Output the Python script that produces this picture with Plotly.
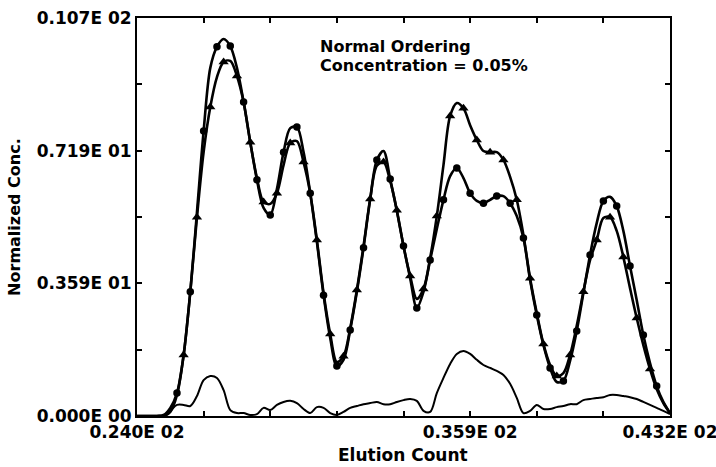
import plotly.graph_objects as go

# Elution count grid (x values)
elution = [24.00, 24.24, 24.48, 24.72, 24.96, 25.20, 25.44, 25.68, 25.92, 26.16,
           26.40, 26.64, 26.88, 27.12, 27.36, 27.60, 27.84, 28.08, 28.32, 28.56,
           28.80, 29.04, 29.28, 29.52, 29.76, 30.00, 30.24, 30.48, 30.72, 30.96,
           31.20, 31.44, 31.68, 31.92, 32.16, 32.40, 32.64, 32.88, 33.12, 33.36,
           33.60, 33.84, 34.08, 34.32, 34.56, 34.80, 35.04, 35.28, 35.52, 35.76,
           36.00, 36.24, 36.48, 36.72, 36.96, 37.20, 37.44, 37.68, 37.92, 38.16,
           38.40, 38.64, 38.88, 39.12, 39.36, 39.60, 39.84, 40.08, 40.32, 40.56,
           40.80, 41.04, 41.28, 41.52, 41.76, 42.00, 42.24, 42.48, 42.72, 42.96,
           43.20]

# Series with circle markers
conc_circles = [0, 0, 0, 0, 0.03, 0.22, 0.62, 1.65, 3.36, 5.52,
                7.71, 9.42, 9.99, 10.20, 10.01, 9.42, 8.50, 7.41, 6.39, 5.63,
                5.44, 6.14, 7.14, 7.79, 7.82, 7.14, 6.03, 4.71, 3.27, 2.11,
                1.35, 1.52, 2.33, 3.36, 4.55, 5.87, 6.93, 7.17, 6.41, 5.55,
                4.60, 3.73, 2.92, 3.36, 4.22, 5.06, 5.85, 6.49, 6.71, 6.44,
                6.03, 5.82, 5.76, 5.85, 5.95, 5.95, 5.76, 5.41, 4.82, 3.68,
                2.73, 1.92, 1.30, 0.92, 0.95, 1.49, 2.30, 3.33, 4.36, 5.22,
                5.82, 5.93, 5.68, 5.01, 4.06, 3.14, 2.19, 1.43, 0.81, 0.38,
                0.08]

# Series with triangle markers
conc_triangles = [0, 0, 0, 0, 0, 0.11, 0.57, 1.65, 3.36, 5.38,
                  7.14, 8.36, 9.17, 9.58, 9.61, 9.20, 8.50, 7.41, 6.44, 5.79,
                  5.74, 6.03, 6.79, 7.39, 7.44, 6.87, 6.03, 4.76, 3.33, 2.22,
                  1.46, 1.62, 2.38, 3.41, 4.60, 5.87, 6.77, 6.87, 6.36, 5.57,
                  4.60, 3.79, 3.17, 3.44, 4.28, 5.41, 6.79, 8.12, 8.47, 8.33,
                  7.87, 7.47, 7.17, 7.14, 7.14, 6.93, 6.47, 5.85, 4.90, 3.73,
                  2.79, 1.95, 1.38, 1.08, 1.16, 1.65, 2.44, 3.36, 4.22, 4.76,
                  5.36, 5.38, 5.01, 4.30, 3.46, 2.65, 1.92, 1.27, 0.73, 0.35,
                  0.08]

# Difference curve near the baseline
conc_diff = [0, 0, 0, 0, 0, 0.14, 0.30, 0.30, 0.27, 0.54,
             0.97, 1.08, 1.03, 0.70, 0.16, 0.08, 0.08, 0.03, 0.05, 0.22,
             0.16, 0.30, 0.38, 0.41, 0.35, 0.19, 0.08, 0.24, 0.22, 0.08,
             0.03, 0.11, 0.22, 0.27, 0.32, 0.35, 0.38, 0.32, 0.32, 0.38,
             0.43, 0.46, 0.41, 0.14, 0.11, 0.62, 1.03, 1.41, 1.68, 1.76,
             1.68, 1.52, 1.38, 1.30, 1.22, 1.11, 0.87, 0.49, 0.08, 0.14,
             0.30, 0.19, 0.19, 0.24, 0.27, 0.32, 0.32, 0.43, 0.46, 0.49,
             0.51, 0.57, 0.57, 0.54, 0.51, 0.46, 0.38, 0.30, 0.22, 0.14,
             0.05]

x_tickvals = [24.0, 26.4, 28.8, 31.2, 33.6, 36.0, 38.4, 40.8, 43.2]
x_ticktext = ["0.240E 02", "", "", "", "", "0.359E 02", "", "", "0.432E 02"]
y_tickvals = [0, 1.795, 3.59, 5.385, 7.18, 8.975, 10.77]
y_ticktext = ["0.000E 00", "", "0.359E 01", "", "0.719E 01", "", "0.107E 02"]

FONT = "DejaVu Sans"

fig = go.Figure()

def marker_subset(xs, ys, start):
    mx, my = [], []
    for i in range(start, len(xs), 2):
        if ys[i] > 0.4:
            mx.append(xs[i])
            my.append(ys[i])
    return mx, my

for ys in (conc_circles, conc_triangles):
    fig.add_trace(go.Scatter(x=elution, y=ys, mode="lines",
                             line=dict(color="black", width=2.6, shape="spline", smoothing=0.9),
                             showlegend=False, hoverinfo="skip"))

fig.add_trace(go.Scatter(x=elution, y=conc_diff, mode="lines",
                         line=dict(color="black", width=2, shape="spline", smoothing=0.9),
                         showlegend=False, hoverinfo="skip"))

cx, cy = marker_subset(elution, conc_circles, 0)
fig.add_trace(go.Scatter(x=cx, y=cy, mode="markers",
                         marker=dict(symbol="circle", size=7.5, color="black"),
                         showlegend=False))
tx, ty = marker_subset(elution, conc_triangles, 1)
fig.add_trace(go.Scatter(x=tx, y=ty, mode="markers",
                         marker=dict(symbol="triangle-up", size=9, color="black"),
                         showlegend=False))

axis_common = dict(showline=True, linecolor="black", linewidth=2, mirror="ticks",
                   ticks="inside", ticklen=5, tickwidth=2, tickcolor="black",
                   showgrid=False, zeroline=False, automargin=False,
                   ticklabeloverflow="allow",
                   tickfont=dict(family=FONT, size=17, color="black", weight="bold"))

fig.update_layout(
    template="none",
    width=716, height=467,
    margin=dict(l=137, r=46, t=18, b=51, autoexpand=False),
    paper_bgcolor="white", plot_bgcolor="white",
    xaxis=dict(range=[24.0, 43.2], tickmode="array", tickvals=x_tickvals,
               ticktext=x_ticktext, **axis_common),
    yaxis=dict(range=[0, 10.77], tickmode="array", tickvals=y_tickvals,
               ticktext=y_ticktext, **axis_common),
    annotations=[
        dict(text="Elution Count", x=0.499, y=-0.098, xref="paper", yref="paper",
             showarrow=False, xanchor="center", yanchor="middle",
             font=dict(family=FONT, size=17, color="black", weight="bold")),
        dict(text="Normalized Conc.", x=-0.231, y=0.5, xref="paper", yref="paper",
             showarrow=False, xanchor="center", yanchor="middle", textangle=-90,
             font=dict(family=FONT, size=16, color="black", weight="bold")),
        dict(text="Normal Ordering", x=0.3396, y=0.9296, xref="paper", yref="paper",
             showarrow=False, xanchor="left", yanchor="middle",
             font=dict(family=FONT, size=16, color="black", weight="bold")),
        dict(text="Concentration = 0.05%", x=0.3396, y=0.8794, xref="paper", yref="paper",
             showarrow=False, xanchor="left", yanchor="middle",
             font=dict(family=FONT, size=16, color="black", weight="bold")),
    ],
)

fig.write_html("out.html")
